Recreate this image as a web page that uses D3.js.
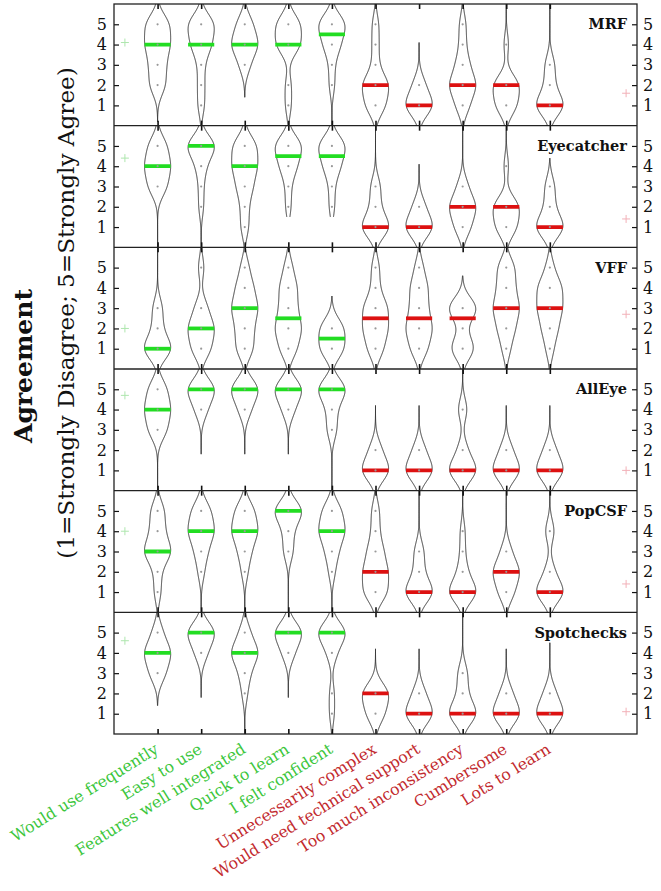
<!DOCTYPE html>
<html><head><meta charset="utf-8">
<script src="https://cdn.jsdelivr.net/npm/d3@7"></script>
<style>body{margin:0;background:#fff}</style>
</head><body><svg id="c" width="661" height="891"></svg>
<script>
// ---------- data ----------
const items = ["Would use frequently","Easy to use","Features well integrated","Quick to learn","I felt confident",
  "Unnecessarily complex","Would need technical support","Too much inconsistency","Cumbersome","Lots to learn"];
const itemIsPositive = [true,true,true,true,true,false,false,false,false,false];
const panels = ["MRF","Eyecatcher","VFF","AllEye","PopCSF","Spotchecks"];
const yTicks = [1,2,3,4,5];
// response counts for answers 1..5, one row per item
const countsMRF = [[0,2,2,3,3],[1,1,1,3,4],[0,0,2,5,3],[1,1,0,4,4],[0,1,1,3,5],[3,4,1,1,1],[7,3,0,0,0],[2,4,2,1,1],[4,5,0,1,0],[6,2,2,0,0]];
const countsEyecatcher = [[0,0,3,4,3],[0,1,1,2,6],[1,1,2,3,3],[0,1,1,3,5],[0,1,1,3,5],[6,2,2,0,0],[7,3,0,0,0],[3,5,2,0,0],[4,5,0,1,0],[6,2,2,0,0]];
const countsVFF = [[6,2,2,0,0],[3,4,2,0,1],[2,2,3,2,1],[2,3,2,2,1],[5,5,0,0,0],[2,3,3,1,1],[2,3,2,2,1],[4,1,5,0,0],[1,2,3,2,2],[1,2,3,3,1]];
const countsAllEye = [[0,0,3,4,3],[0,0,0,3,7],[0,0,0,3,7],[0,0,0,3,7],[0,0,2,2,6],[7,3,0,0,0],[7,3,0,0,0],[6,2,0,2,0],[7,3,0,0,0],[7,3,0,0,0]];
const countsPopCSF = [[1,1,4,2,2],[0,1,2,4,3],[0,1,2,4,3],[0,0,2,2,6],[0,1,2,4,3],[3,3,2,1,1],[6,2,2,0,0],[6,2,1,1,0],[3,5,2,0,0],[6,2,0,2,0]];
const countsSpotchecks = [[0,0,3,5,2],[0,0,0,3,7],[0,1,2,5,2],[0,0,0,3,7],[1,1,0,2,6],[4,6,0,0,0],[7,3,0,0,0],[6,2,2,0,0],[7,3,0,0,0],[7,3,0,0,0]];
// range (in agreement units) over which each density curve was evaluated
const kdeLowMRF = [0.2,-1,1.4,-1,-1,-1,-1,-1,-1,-1];
const kdeHighMRF = [7,7,7,7,7,7,4.1,7,7,7];
const kdeLowEyecatcher = [-1,-1,-1,1.5,1.5,-1,-1,-1,-1,-1];
const kdeHighEyecatcher = [7,7,7,7,7,7,4.1,7,7,4.4];
const kdeLowVFF = [-1,-1,-1,-1,0,-1,-1,-1,-1,-1];
const kdeHighVFF = [7,7,7,7,3.6,7,7,4.6,7,7];
const kdeLowAllEye = [-1,1.8,1.8,1.8,-1,-1,-1,-1,-1,-1];
const kdeHighAllEye = [7,7,7,7,7,4.2,4.2,7,4.2,4.2];
const kdeLowPopCSF = [-1,-1,-1,-1,-1,-1,-1,-1,-1,-1];
const kdeHighPopCSF = [7,7,7,7,7,7,7,7,7,7];
const kdeLowSpotchecks = [1.4,1.8,-1,1.8,-1,-1,-1,-1,-1,-1];
const kdeHighSpotchecks = [7,7,7,7,7,4.2,4.2,7,4.2,4.5];
// group means (the small + markers)
const positiveMean = [4.1,4.4,2.0,4.7,4.0,4.6];
const negativeMean = [1.6,1.4,2.7,1.0,1.4,1.1];

const allCounts = [countsMRF,countsEyecatcher,countsVFF,countsAllEye,countsPopCSF,countsSpotchecks];
const allLow = [kdeLowMRF,kdeLowEyecatcher,kdeLowVFF,kdeLowAllEye,kdeLowPopCSF,kdeLowSpotchecks];
const allHigh = [kdeHighMRF,kdeHighEyecatcher,kdeHighVFF,kdeHighAllEye,kdeHighPopCSF,kdeHighSpotchecks];

// ---------- layout ----------
const plotL = 114, plotR = 637, plotT = 4, plotB = 734;
const ph = (plotB - plotT) / panels.length;
const bandwidth = 0.55;
const halfW = 0.3; // violin half width in category units
const GREEN = "#22dd22", RED = "#dd1111";
const GREEN_TXT = "#3cc63c", RED_TXT = "#c22a2e";
const SERIF = "'DejaVu Serif', serif";
const labelAngle = 32;

const svg = d3.select("#c");
const x = d3.scaleLinear().domain([0, 12]).range([plotL, plotR]);

function median(c) {
  const arr = [];
  c.forEach((n, i) => { for (let k = 0; k < n; k++) arr.push(i + 1); });
  return d3.median(arr);
}
function dens(c, v) {
  let s = 0;
  c.forEach((n, i) => { const z = (v - (i + 1)) / bandwidth; s += n * Math.exp(-0.5 * z * z); });
  return s;
}
function textLen(t, size) {
  const pr = svg.append("text").attr("font-family", SERIF).attr("font-size", size).text(t);
  const l = pr.node().getComputedTextLength(); pr.remove(); return l;
}

const defs = svg.append("defs");

panels.forEach((pname, p) => {
  const pTop = plotT + p * ph;
  const y = d3.scaleLinear().domain([0, 6]).range([pTop + ph, pTop]);
  const g = svg.append("g");
  defs.append("clipPath").attr("id", "clip" + p).append("rect")
    .attr("x", plotL).attr("y", pTop).attr("width", plotR - plotL).attr("height", ph);
  const gv = g.append("g").attr("clip-path", `url(#clip${p})`);

  // y axes
  g.append("g").attr("transform", `translate(${plotL},0)`)
    .call(d3.axisLeft(y).tickValues(yTicks).tickSize(-5).tickPadding(7).tickFormat(d3.format("d")))
    .call(a => { a.select(".domain").remove(); a.selectAll("line").attr("stroke", "#111").attr("stroke-width", 1.2);
      a.selectAll("text").attr("font-family", SERIF).attr("font-size", 16).attr("fill", "#111"); });
  g.append("g").attr("transform", `translate(${plotR},0)`)
    .call(d3.axisRight(y).tickValues(yTicks).tickSize(-5).tickPadding(6).tickFormat(d3.format("d")))
    .call(a => { a.select(".domain").remove(); a.selectAll("line").attr("stroke", "#111").attr("stroke-width", 1.2);
      a.selectAll("text").attr("font-family", SERIF).attr("font-size", 16).attr("fill", "#111"); });

  // x ticks top & bottom (inside)
  const catTicks = d3.range(1, items.length + 1);
  g.append("g").attr("transform", `translate(0,${pTop})`)
    .call(d3.axisBottom(x).tickValues(catTicks).tickSize(5).tickFormat(""))
    .call(a => { a.select(".domain").remove(); a.selectAll("line").attr("stroke", "#111").attr("stroke-width", 1.6); });
  g.append("g").attr("transform", `translate(0,${pTop + ph})`)
    .call(d3.axisTop(x).tickValues(catTicks).tickSize(5).tickFormat(""))
    .call(a => { a.select(".domain").remove(); a.selectAll("line").attr("stroke", "#111").attr("stroke-width", 1.6); });

  // violins
  allCounts[p].forEach((c, i) => {
    const cx = i + 1;
    const lo = Math.max(allLow[p][i], -0.3), hi = Math.min(allHigh[p][i], 6.3);
    const full = d3.range(-1, 7.001, 0.01).map(v => dens(c, v));
    const fmax = d3.max(full);
    const vals = d3.range(lo, hi + 1e-9, 0.02).map(v => ({ v, w: halfW * dens(c, v) / fmax }));
    const lineL = d3.line().x(d => x(cx - d.w)).y(d => y(d.v));
    const lineR = d3.line().x(d => x(cx + d.w)).y(d => y(d.v));
    gv.append("path").attr("d", lineL(vals)).attr("fill", "none").attr("stroke", "#222").attr("stroke-width", 0.9);
    gv.append("path").attr("d", lineR(vals)).attr("fill", "none").attr("stroke", "#222").attr("stroke-width", 0.9);
    const m = median(c);
    gv.append("line").attr("x1", x(cx - halfW)).attr("x2", x(cx + halfW)).attr("y1", y(m)).attr("y2", y(m))
      .attr("stroke", itemIsPositive[i] ? GREEN : RED).attr("stroke-width", 3.8);
    c.forEach((n, k) => {
      if (n > 0) gv.append("circle").attr("cx", x(cx)).attr("cy", y(k + 1)).attr("r", 1.1).attr("fill", "#999");
    });
  });

  // mean markers
  [[0.25, positiveMean[p], "#aee6ae"], [11.75, negativeMean[p], "#f2b0b8"]].forEach(([mx, my, col]) => {
    g.append("path").attr("d", `M${x(mx) - 4},${y(my)}H${x(mx) + 4}M${x(mx)},${y(my) - 4}V${y(my) + 4}`)
      .attr("stroke", col).attr("stroke-width", 1).attr("fill", "none");
  });

  // panel label
  g.append("text").attr("x", 627).attr("y", y(5)).attr("dy", "0.35em").attr("text-anchor", "end")
    .attr("font-family", SERIF).attr("font-weight", "bold").attr("font-size", 14.5).attr("fill", "#111").text(pname);

  if (p > 0) svg.append("line").attr("x1", plotL).attr("x2", plotR).attr("y1", pTop).attr("y2", pTop)
    .attr("stroke", "#222").attr("stroke-width", 1.3);
});

// frame
svg.append("rect").attr("x", plotL).attr("y", plotT).attr("width", plotR - plotL).attr("height", plotB - plotT)
  .attr("fill", "none").attr("stroke", "#222").attr("stroke-width", 1.3);

// x labels: font size chosen so that every label stays inside the picture
const rad = labelAngle * Math.PI / 180;
const anchorY = plotB + 18;
let labelSize = 17;
items.forEach((t, i) => {
  const L = textLen(t, 17);
  const ax = x(i + 1) + 2;
  const maxByLeft = (ax - 15) / Math.cos(rad);
  const maxByBottom = (885 - anchorY) / Math.sin(rad);
  labelSize = Math.min(labelSize, 17 * Math.min(maxByLeft, maxByBottom) / L);
});
items.forEach((t, i) => {
  svg.append("text").attr("transform", `translate(${x(i + 1) + 2},${anchorY}) rotate(${-labelAngle})`)
    .attr("text-anchor", "end").attr("font-family", SERIF).attr("font-size", labelSize)
    .attr("fill", itemIsPositive[i] ? GREEN_TXT : RED_TXT).text(t);
});

// y titles
svg.append("text").attr("transform", `translate(32,366) rotate(-90)`).attr("text-anchor", "middle")
  .attr("font-family", SERIF).attr("font-weight", "bold").attr("font-size", 25).attr("fill", "#111").text("Agreement");
const subSize = Math.min(24, 18 * 492 / textLen("(1=Strongly Disagree; 5=Strongly Agree)", 18));
svg.append("text").attr("transform", `translate(74,313) rotate(-90)`).attr("text-anchor", "middle")
  .attr("font-family", SERIF).attr("font-size", subSize).attr("fill", "#111").text("(1=Strongly Disagree; 5=Strongly Agree)");
</script></body></html>
